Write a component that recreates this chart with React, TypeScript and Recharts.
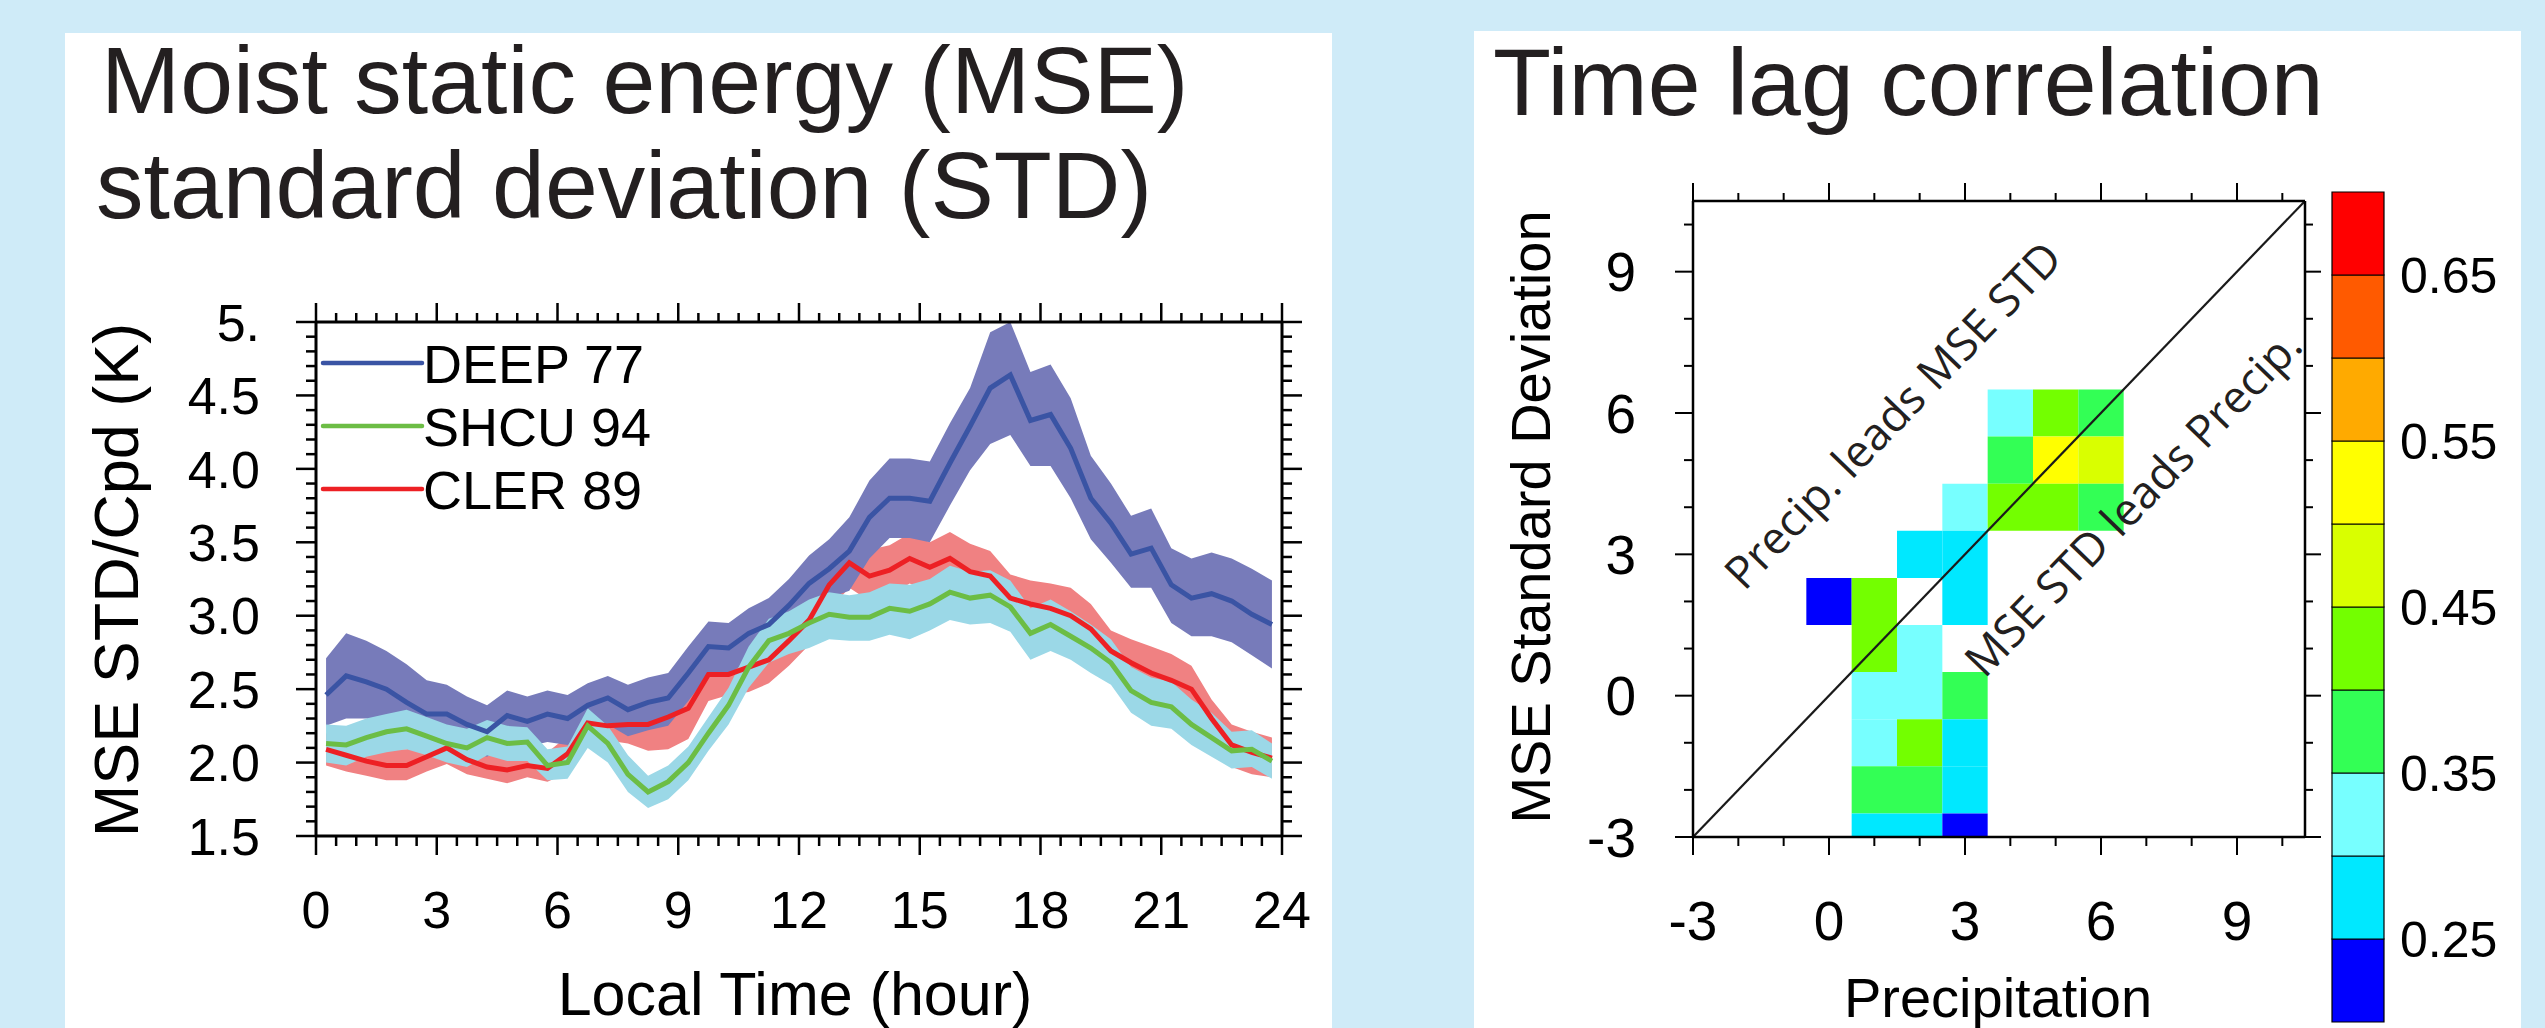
import React from 'react';
import {
  ComposedChart,
  Area,
  Line,
  XAxis,
  YAxis,
  ReferenceArea,
  ReferenceLine,
  ReferenceDot,
} from 'recharts';

const FONT = '"Liberation Sans", Arial, Helvetica, sans-serif';
const ANNOT_FONT = '"Open Sans", "Noto Sans", sans-serif';

// ---------------- Left panel data: MSE STD by local time ----------------
const hours = [
  0.25, 0.75, 1.25, 1.75, 2.25, 2.75, 3.25, 3.75, 4.25, 4.75, 5.25, 5.75,
  6.25, 6.75, 7.25, 7.75, 8.25, 8.75, 9.25, 9.75, 10.25, 10.75, 11.25, 11.75,
  12.25, 12.75, 13.25, 13.75, 14.25, 14.75, 15.25, 15.75, 16.25, 16.75, 17.25, 17.75,
  18.25, 18.75, 19.25, 19.75, 20.25, 20.75, 21.25, 21.75, 22.25, 22.75, 23.25, 23.75,
];

const deepMean = [
  2.46, 2.59, 2.55, 2.50, 2.41, 2.33, 2.33, 2.26, 2.21, 2.32,
  2.28, 2.33, 2.30, 2.39, 2.44, 2.36, 2.41, 2.44, 2.61, 2.79,
  2.78, 2.88, 2.94, 3.07, 3.22, 3.32, 3.44, 3.67, 3.80, 3.80,
  3.78, 4.04, 4.29, 4.55, 4.64, 4.33, 4.37, 4.14, 3.80, 3.63,
  3.42, 3.46, 3.21, 3.12, 3.15, 3.10, 3.01, 2.94,
];
const deepHigh = [
  2.71, 2.88, 2.83, 2.76, 2.67, 2.56, 2.53, 2.45, 2.39, 2.49,
  2.45, 2.49, 2.46, 2.54, 2.59, 2.53, 2.58, 2.61, 2.79, 2.96,
  2.95, 3.05, 3.12, 3.25, 3.41, 3.52, 3.67, 3.92, 4.07, 4.07,
  4.05, 4.31, 4.55, 4.93, 5.00, 4.66, 4.71, 4.48, 4.09, 3.90,
  3.68, 3.73, 3.46, 3.39, 3.43, 3.39, 3.32, 3.24,
];
const deepLow = [
  2.25, 2.30, 2.30, 2.27, 2.22, 2.15, 2.14, 2.08, 2.04, 2.14,
  2.11, 2.14, 2.12, 2.20, 2.26, 2.18, 2.22, 2.25, 2.42, 2.60,
  2.60, 2.70, 2.76, 2.90, 3.07, 3.12, 3.17, 3.39, 3.53, 3.53,
  3.50, 3.75, 3.99, 4.17, 4.23, 4.02, 4.02, 3.80, 3.52, 3.36,
  3.19, 3.19, 2.95, 2.86, 2.86, 2.82, 2.73, 2.64,
];

const shcuMean = [
  2.13, 2.12, 2.17, 2.21, 2.23, 2.18, 2.13, 2.10, 2.17, 2.13,
  2.14, 1.98, 2.00, 2.25, 2.13, 1.92, 1.80, 1.87, 2.00, 2.20,
  2.39, 2.65, 2.83, 2.88, 2.95, 3.01, 2.99, 2.99, 3.05, 3.03,
  3.08, 3.16, 3.12, 3.14, 3.06, 2.88, 2.94, 2.86, 2.78, 2.68,
  2.49, 2.41, 2.38, 2.26, 2.17, 2.08, 2.09, 2.01,
];
const shcuHigh = [
  2.26, 2.25, 2.30, 2.33, 2.36, 2.31, 2.26, 2.23, 2.29, 2.25,
  2.24, 2.09, 2.11, 2.37, 2.25, 2.05, 1.91, 1.98, 2.11, 2.31,
  2.51, 2.79, 2.98, 3.03, 3.11, 3.16, 3.14, 3.16, 3.22, 3.21,
  3.25, 3.34, 3.30, 3.31, 3.24, 3.05, 3.11, 3.03, 2.94, 2.84,
  2.65, 2.58, 2.55, 2.43, 2.34, 2.21, 2.22, 2.13,
];
const shcuLow = [
  2.00, 1.98, 2.04, 2.07, 2.09, 2.05, 2.00, 1.97, 2.05, 2.01,
  2.01, 1.88, 1.89, 2.10, 2.00, 1.80, 1.69, 1.75, 1.88, 2.08,
  2.26, 2.51, 2.68, 2.74, 2.78, 2.84, 2.83, 2.83, 2.87, 2.84,
  2.90, 2.97, 2.94, 2.95, 2.89, 2.70, 2.76, 2.70, 2.61, 2.53,
  2.34, 2.25, 2.23, 2.12, 2.04, 1.96, 1.97, 1.89,
];

const clerMean = [
  2.09, 2.05, 2.01, 1.98, 1.98, 2.04, 2.10, 2.02, 1.97, 1.95,
  1.98, 1.96, 2.06, 2.27, 2.25, 2.26, 2.26, 2.31, 2.37, 2.60,
  2.60, 2.65, 2.70, 2.83, 2.97, 3.21, 3.36, 3.27, 3.31, 3.39,
  3.33, 3.39, 3.30, 3.27, 3.12, 3.08, 3.05, 3.00, 2.91, 2.76,
  2.68, 2.61, 2.56, 2.50, 2.30, 2.12, 2.07, 2.03,
];
const clerHigh = [
  2.20, 2.16, 2.12, 2.09, 2.09, 2.15, 2.21, 2.13, 2.08, 2.06,
  2.09, 2.07, 2.18, 2.40, 2.39, 2.41, 2.42, 2.48, 2.55, 2.78,
  2.78, 2.82, 2.87, 3.00, 3.14, 3.38, 3.53, 3.45, 3.48, 3.56,
  3.50, 3.57, 3.49, 3.44, 3.28, 3.24, 3.22, 3.19, 3.08, 2.90,
  2.84, 2.79, 2.74, 2.66, 2.43, 2.26, 2.21, 2.17,
];
const clerLow = [
  1.98, 1.94, 1.91, 1.88, 1.88, 1.94, 1.99, 1.92, 1.89, 1.86,
  1.90, 1.87, 1.93, 2.14, 2.15, 2.13, 2.08, 2.09, 2.16, 2.42,
  2.46, 2.48, 2.54, 2.66, 2.80, 3.04, 3.19, 3.10, 3.14, 3.22,
  3.16, 3.22, 3.13, 3.10, 2.95, 2.91, 2.88, 2.83, 2.74, 2.59,
  2.51, 2.44, 2.39, 2.33, 2.13, 1.97, 1.92, 1.90,
];

const seriesNames = ['DEEP 77', 'SHCU 94', 'CLER 89'];
const seriesLineColors = ['#3a54a4', '#6cbd45', '#ed2024'];
const seriesBandColors = ['#777bba', '#9bd8e7', '#f08182'];

const hourMajorTicks = [0, 3, 6, 9, 12, 15, 18, 21, 24];
const stdMajorTicks = [1.5, 2.0, 2.5, 3.0, 3.5, 4.0, 4.5, 5.0];
const stdTickLabels = ['1.5', '2.0', '2.5', '3.0', '3.5', '4.0', '4.5', '5.'];

// ---------------- Right panel data: time lag correlation ----------------
const lagPrecip = [4, 5, 6, 4, 5, 6, 3, 4, 5, 6, 2, 3, 0, 1, 3, 1, 2, 1, 2, 3, 1, 2, 3, 1, 2, 3, 1, 2, 3];
const lagMse = [6, 6, 6, 5, 5, 5, 4, 4, 4, 4, 3, 3, 2, 2, 2, 1, 1, 0, 0, 0, -1, -1, -1, -2, -2, -2, -3, -3, -3];
const lagCorr = [
  0.33, 0.43, 0.38, 0.38, 0.53, 0.48, 0.33, 0.43, 0.43, 0.38,
  0.28, 0.28, 0.23, 0.43, 0.28, 0.43, 0.33, 0.33, 0.33, 0.38,
  0.33, 0.43, 0.28, 0.38, 0.38, 0.28, 0.28, 0.28, 0.23,
];
const lagMajorTicks = [-3, 0, 3, 6, 9];

const corrLevels = [0.2, 0.25, 0.3, 0.35, 0.4, 0.45, 0.5, 0.55, 0.6, 0.65, 0.7];
const corrColors = [
  '#0000ff', '#00e8ff', '#77ffff', '#33ff55', '#73ff00',
  '#d9ff00', '#ffff00', '#ffaa00', '#ff5a00', '#ff0000',
];
const corrTickValues = [0.25, 0.35, 0.45, 0.55, 0.65];

const leadLabels = [
  { text: 'Precip. leads MSE STD', x: 1.66, y: 5.72 },
  { text: 'MSE STD leads Precip.', x: 6.96, y: 3.86 },
];

// ---------------- helpers ----------------
const steps = (a: number, b: number, s: number) => {
  const out: number[] = [];
  const n = Math.round((b - a) / s);
  for (let i = 0; i <= n; i++) out.push(Math.round((a + i * s) * 1000) / 1000);
  return out;
};
const hourAllTicks = steps(0, 24, 0.5);
const stdAllTicks = steps(1.5, 5, 0.1);
const lagAllTicks = steps(-3, 10, 1);

const isIn = (arr: number[], v: number) => arr.some((m) => Math.abs(m - v) < 1e-6);
const colorFor = (r: number) => {
  for (let i = 0; i < corrColors.length; i++) {
    if (r >= corrLevels[i] && r < corrLevels[i + 1]) return corrColors[i];
  }
  return corrColors[corrColors.length - 1];
};

type TickOpts = {
  side: 'bottom' | 'top' | 'left' | 'right';
  majors: number[];
  major: number;
  minor: number;
  labelOffset?: number;
  fontSize?: number;
  format?: (v: number) => string;
  width?: number;
};

const makeTick = (o: TickOpts) => (props: any) => {
  const { x, y, payload } = props;
  const v = payload.value;
  const isMajor = isIn(o.majors, v);
  const len = isMajor ? o.major : o.minor;
  const w = o.width ?? 2.5;
  let line = null;
  if (o.side === 'bottom') line = <line x1={x} y1={y} x2={x} y2={y + len} stroke="#000" strokeWidth={w} />;
  if (o.side === 'top') line = <line x1={x} y1={y} x2={x} y2={y - len} stroke="#000" strokeWidth={w} />;
  if (o.side === 'left') line = <line x1={x} y1={y} x2={x - len} y2={y} stroke="#000" strokeWidth={w} />;
  if (o.side === 'right') line = <line x1={x} y1={y} x2={x + len} y2={y} stroke="#000" strokeWidth={w} />;
  let label = null;
  if (isMajor && o.labelOffset !== undefined && o.format) {
    if (o.side === 'bottom') {
      label = (
        <text x={x} y={y + o.labelOffset} textAnchor="middle" fontSize={o.fontSize} fontFamily={FONT} fill="#000">
          {o.format(v)}
        </text>
      );
    } else if (o.side === 'left') {
      label = (
        <text x={x - o.labelOffset} y={y} dy="0.36em" textAnchor="end" fontSize={o.fontSize} fontFamily={FONT} fill="#000">
          {o.format(v)}
        </text>
      );
    }
  }
  return (
    <g>
      {line}
      {label}
    </g>
  );
};

const mseRows = hours.map((h, i) => ({
  h,
  deepMean: deepMean[i],
  deepBand: [deepLow[i], deepHigh[i]],
  shcuMean: shcuMean[i],
  shcuBand: [shcuLow[i], shcuHigh[i]],
  clerMean: clerMean[i],
  clerBand: [clerLow[i], clerHigh[i]],
}));

const lagCells = lagPrecip.map((x, i) => ({ x, y: lagMse[i], r: lagCorr[i] }));

const BG = '#cfebf8';

function MseChart() {
  const axisLine = { stroke: '#000', strokeWidth: 3 };
  return (
    <div style={{ position: 'absolute', left: 0, top: 0 }}>
      <ComposedChart
        width={1340}
        height={1028}
        data={mseRows}
        margin={{ top: 321, right: 57, bottom: 191, left: 315 }}
      >
        <XAxis
          dataKey="h"
          type="number"
          domain={[0, 24]}
          allowDataOverflow
          ticks={hourAllTicks}
          interval={0}
          height={1}
          tickSize={0}
          tickMargin={0}
          tickLine={false}
          axisLine={axisLine}
          tick={makeTick({ side: 'bottom', majors: hourMajorTicks, major: 19, minor: 10, labelOffset: 92, fontSize: 52, format: (v) => String(v) })}
        />
        <XAxis
          xAxisId="top"
          dataKey="h"
          orientation="top"
          type="number"
          domain={[0, 24]}
          allowDataOverflow
          ticks={hourAllTicks}
          interval={0}
          height={1}
          tickSize={0}
          tickMargin={0}
          tickLine={false}
          axisLine={axisLine}
          tick={makeTick({ side: 'top', majors: hourMajorTicks, major: 19, minor: 9 })}
        />
        <YAxis
          type="number"
          domain={[1.5, 5]}
          allowDataOverflow
          ticks={stdAllTicks}
          interval={0}
          width={1}
          tickSize={0}
          tickMargin={0}
          tickLine={false}
          axisLine={axisLine}
          tick={makeTick({
            side: 'left',
            majors: stdMajorTicks,
            major: 20,
            minor: 10,
            labelOffset: 56,
            fontSize: 52,
            format: (v) => stdTickLabels[stdMajorTicks.findIndex((m) => Math.abs(m - v) < 1e-6)],
          })}
        />
        <YAxis
          yAxisId="right"
          orientation="right"
          type="number"
          domain={[1.5, 5]}
          allowDataOverflow
          ticks={stdAllTicks}
          interval={0}
          width={1}
          tickSize={0}
          tickMargin={0}
          tickLine={false}
          axisLine={axisLine}
          tick={makeTick({ side: 'right', majors: stdMajorTicks, major: 20, minor: 10 })}
        />
        <Area dataKey="clerBand" type="linear" stroke="none" fill={seriesBandColors[2]} fillOpacity={1} isAnimationActive={false} dot={false} activeDot={false} />
        <Area dataKey="deepBand" type="linear" stroke="none" fill={seriesBandColors[0]} fillOpacity={1} isAnimationActive={false} dot={false} activeDot={false} />
        <Area dataKey="shcuBand" type="linear" stroke="none" fill={seriesBandColors[1]} fillOpacity={1} isAnimationActive={false} dot={false} activeDot={false} />
        <Line dataKey="deepMean" type="linear" stroke={seriesLineColors[0]} strokeWidth={5} dot={false} activeDot={false} isAnimationActive={false} />
        <Line dataKey="clerMean" type="linear" stroke={seriesLineColors[2]} strokeWidth={5} dot={false} activeDot={false} isAnimationActive={false} />
        <Line dataKey="shcuMean" type="linear" stroke={seriesLineColors[1]} strokeWidth={5} dot={false} activeDot={false} isAnimationActive={false} />
      </ComposedChart>
    </div>
  );
}

function LagChart() {
  const axisLine = { stroke: '#000', strokeWidth: 2.5 };
  return (
    <div style={{ position: 'absolute', left: 1340, top: 0 }}>
      <ComposedChart
        width={1205}
        height={1028}
        data={lagCells}
        margin={{ top: 200, right: 239, bottom: 190, left: 352 }}
      >
        <XAxis
          type="number"
          dataKey="x"
          domain={[-3, 10.5]}
          allowDataOverflow
          ticks={lagAllTicks}
          interval={0}
          height={1}
          tickSize={0}
          tickMargin={0}
          tickLine={false}
          axisLine={axisLine}
          tick={makeTick({ side: 'bottom', majors: lagMajorTicks, major: 18, minor: 9, labelOffset: 103, fontSize: 55, format: (v) => String(v), width: 2 })}
        />
        <XAxis
          xAxisId="top"
          dataKey="x"
          orientation="top"
          type="number"
          domain={[-3, 10.5]}
          allowDataOverflow
          ticks={lagAllTicks}
          interval={0}
          height={1}
          tickSize={0}
          tickMargin={0}
          tickLine={false}
          axisLine={axisLine}
          tick={makeTick({ side: 'top', majors: lagMajorTicks, major: 18, minor: 8, width: 2 })}
        />
        <YAxis
          type="number"
          dataKey="y"
          domain={[-3, 10.5]}
          allowDataOverflow
          ticks={lagAllTicks}
          interval={0}
          width={1}
          tickSize={0}
          tickMargin={0}
          tickLine={false}
          axisLine={axisLine}
          tick={makeTick({ side: 'left', majors: lagMajorTicks, major: 18, minor: 9, labelOffset: 57, fontSize: 55, format: (v) => String(v), width: 2 })}
        />
        <YAxis
          yAxisId="right"
          dataKey="y"
          orientation="right"
          type="number"
          domain={[-3, 10.5]}
          allowDataOverflow
          ticks={lagAllTicks}
          interval={0}
          width={1}
          tickSize={0}
          tickMargin={0}
          tickLine={false}
          axisLine={axisLine}
          tick={makeTick({ side: 'right', majors: lagMajorTicks, major: 16, minor: 8, width: 2 })}
        />
        {lagCells.map((c, i) => (
          <ReferenceArea
            key={'cell' + i}
            x1={c.x - 0.5}
            x2={c.x + 0.5}
            y1={Math.max(-3, c.y - 0.5)}
            y2={Math.min(10.5, c.y + 0.5)}
            fill={colorFor(c.r)}
            fillOpacity={1}
            stroke="none"
            ifOverflow="visible"
          />
        ))}
        <ReferenceLine
          segment={[{ x: -3, y: -3 }, { x: 10.5, y: 10.5 }]}
          stroke="#1a1a1a"
          strokeWidth={2.2}
          ifOverflow="visible"
        />
        {leadLabels.map((l, i) => (
          <ReferenceDot
            key={'lead' + i}
            x={l.x}
            y={l.y}
            r={1}
            ifOverflow="visible"
            shape={(p: any) => (
              <text
                x={p.cx}
                y={p.cy}
                transform={`rotate(-46 ${p.cx} ${p.cy})`}
                textAnchor="middle"
                fontSize={45}
                fontFamily={ANNOT_FONT}
                fill="#231f20"
              >
                {l.text}
              </text>
            )}
          />
        ))}
      </ComposedChart>
    </div>
  );
}

function ColorBar() {
  const rows = corrColors.map((c, i) => ({ x: 0.5, lo: corrLevels[i], hi: corrLevels[i + 1], c }));
  return (
    <div style={{ position: 'absolute', left: 2300, top: 0 }}>
      <ComposedChart width={245} height={1028} data={rows} margin={{ top: 192, right: 160, bottom: 6, left: 32 }}>
        <XAxis type="number" dataKey="x" domain={[0, 1]} allowDataOverflow hide />
        <YAxis
          type="number"
          orientation="right"
          domain={[0.2, 0.7]}
          allowDataOverflow
          ticks={corrTickValues}
          interval={0}
          width={1}
          tickSize={0}
          tickMargin={0}
          tickLine={false}
          axisLine={false}
          tick={(p: any) => (
            <text x={p.x + 16} y={p.y} dy="0.36em" textAnchor="start" fontSize={50} fontFamily={FONT} fill="#000">
              {p.payload.value.toFixed(2)}
            </text>
          )}
        />
        {rows.map((r, i) => (
          <ReferenceArea
            key={'cb' + i}
            x1={0}
            x2={1}
            y1={r.lo}
            y2={r.hi}
            fill={r.c}
            fillOpacity={1}
            stroke="#000"
            strokeWidth={1.2}
            ifOverflow="visible"
          />
        ))}
      </ComposedChart>
    </div>
  );
}

function Overlay() {
  return (
    <svg
      width={2545}
      height={1028}
      style={{ position: 'absolute', left: 0, top: 0, pointerEvents: 'none' }}
    >
      <g fontFamily={FONT} fill="#231f20">
        <text x={101} y={113} fontSize={95}>Moist static energy (MSE)</text>
        <text x={96} y={218} fontSize={95}>standard deviation (STD)</text>
        <text x={1493} y={115} fontSize={95}>Time lag correlation</text>
      </g>
      <g fontFamily={FONT} fill="#000">
        <text x={138} y={580} fontSize={63} textAnchor="middle" transform="rotate(-90 138 580)">
          MSE STD/Cpd (K)
        </text>
        <text x={795} y={1015} fontSize={61} textAnchor="middle">
          Local Time (hour)
        </text>
        <text x={1550} y={517} fontSize={56} textAnchor="middle" transform="rotate(-90 1550 517)">
          MSE Standard Deviation
        </text>
        <text x={1998} y={1017} fontSize={56} textAnchor="middle">
          Precipitation
        </text>
      </g>
      {seriesNames.map((name, i) => (
        <g key={name}>
          <line x1={323} y1={363 + 63 * i} x2={422} y2={363 + 63 * i} stroke={seriesLineColors[i]} strokeWidth={4.5} strokeLinecap="round" />
          <text x={423} y={383 + 63 * i} fontSize={54} fontFamily={FONT} fill="#000">
            {name}
          </text>
        </g>
      ))}
    </svg>
  );
}

export default function App() {
  return (
    <div
      style={{
        position: 'absolute',
        left: 0,
        top: 0,
        width: 2545,
        height: 1028,
        background: BG,
        overflow: 'hidden',
      }}
    >
      <div style={{ position: 'absolute', left: 65, top: 33, width: 1267, height: 995, background: '#fff' }} />
      <div style={{ position: 'absolute', left: 1474, top: 31, width: 1047, height: 997, background: '#fff' }} />
      <MseChart />
      <LagChart />
      <ColorBar />
      <Overlay />
    </div>
  );
}
